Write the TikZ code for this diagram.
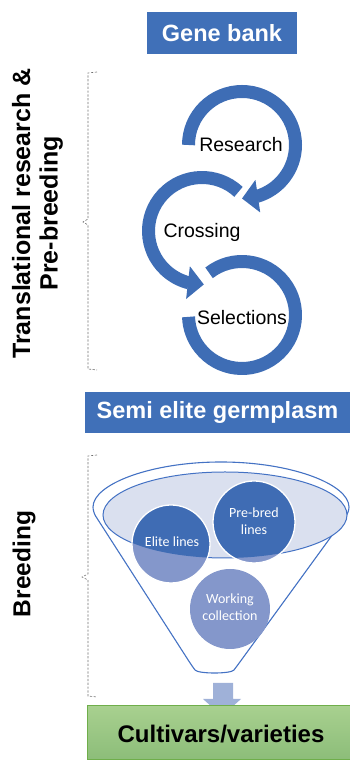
\documentclass[tikz,border=0pt]{standalone}
\usepackage{fontspec}
\setmainfont{Liberation Sans}
\newfontfamily\calib{Carlito}
\usetikzlibrary{arrows.meta,bending}
\definecolor{boxblue}{HTML}{4070B8}
\definecolor{ringblue}{HTML}{3E6DB5}
\definecolor{funnelline}{HTML}{4472C4}
\definecolor{ellfill}{HTML}{DAE0EF}
\definecolor{darkc}{HTML}{3F6CB4}
\definecolor{lightc}{HTML}{8497CB}
\definecolor{arrowfill}{HTML}{9FB1D8}
\definecolor{greentop}{HTML}{A8D08F}
\definecolor{greenbot}{HTML}{8CBD79}
\definecolor{greenline}{HTML}{6FAE4A}
\definecolor{brackgray}{HTML}{707070}
\begin{document}
\begin{tikzpicture}[x=1pt,y=1pt,
  titlebox/.style={fill=boxblue, text=white, font=\fontsize{23.5}{28}\selectfont\bfseries, inner sep=0pt},
  ring/.style={draw=ringblue, line width=13pt},
  ringtip/.style={-{Triangle[length=16pt 0 0,width=32pt 0 0,flex]}},
  ringtext/.style={font=\fontsize{19.5}{23}\selectfont, text=black, inner sep=0pt},
  sidelabel/.style={font=\fontsize{25}{27.5}\selectfont\bfseries, rotate=90, align=center, inner sep=0pt},
  bracket/.style={draw=brackgray, line width=0.6pt, dash pattern=on 2.2pt off 1.6pt},
  circtext/.style={font=\calib\fontsize{14}{16.5}\selectfont, text=white, align=center, inner sep=0pt}
]
\useasboundingbox (0,0) rectangle (350,760);

% top box
\node[titlebox, minimum width=150pt, minimum height=42pt] (gene) at (222,727) {Gene bank};

% rings
\draw[ring, ringtip] (242,615) ++(180:53.5) arc[start angle=180, end angle=-90, radius=53.5];
\draw[ring] (242,445) ++(128:53.5) arc[start angle=128, end angle=-178, radius=53.5];
\draw[ring, ringtip] (202,529) ++(47:53.5) arc[start angle=47, end angle=272, radius=53.5];

\node[ringtext] (research) at (241,615) {Research};
\node[ringtext] (crossing) at (202,528) {Crossing};
\node[ringtext] (selections) at (242,442) {Selections};

% semi elite box
\node[titlebox, minimum width=265pt, minimum height=41pt] (semi) at (217.5,347.5) {Semi elite germplasm};

% side labels
\node[sidelabel] (trl) at (37.5,546.5) {Translational research \&\\Pre-breeding};
\node[sidelabel, font=\fontsize{24.5}{28}\selectfont\bfseries] (breed) at (24,196) {Breeding};

% brackets
\draw[bracket] (97,688) -- (88,687) -- (88,541) -- (83,538) -- (88,535) -- (88,391) -- (97,390);
\draw[bracket] (97,305) -- (88,304) -- (88,186) -- (82,183) -- (88,180) -- (88,64) -- (97,63);

% funnel
\draw[draw=funnelline, line width=1.1pt, fill=white, rounded corners=5pt]
  (93,248) arc[start angle=180, end angle=0, x radius=128, y radius=50]
  -- (237,94) .. controls (231,86) and (198,86) .. (192,94) -- cycle;
\fill[ellfill] (225,245) ellipse[x radius=122, y radius=43];
\draw[funnelline, line width=1pt] (225,245) ellipse[x radius=122, y radius=43];

% circles
\fill[lightc] (171,216) circle[radius=39];
\fill[lightc] (254,238) circle[radius=41];
\fill[lightc] (230,151) circle[radius=40];
\begin{scope}
  \clip (225,245) ellipse[x radius=122, y radius=43];
  \fill[darkc] (171,216) circle[radius=39];
  \fill[darkc] (254,238) circle[radius=41];
\end{scope}
\draw[white, line width=1.3pt] (171,216) circle[radius=39];
\draw[white, line width=1.3pt] (254,238) circle[radius=41];

\node[circtext] (elite) at (172,218) {Elite lines};
\node[circtext] (prebred) at (254,239) {Pre-bred\\lines};
\node[circtext] (working) at (230,153) {Working\\collection};

% down arrow
\fill[arrowfill] (213,77) -- (233,77) -- (233,61) -- (241,61) -- (222,44) -- (203,61) -- (213,61) -- cycle;

% green box
\node[draw=greenline, line width=1pt, top color=greentop, bottom color=greenbot,
      minimum width=263pt, minimum height=54pt, inner sep=0pt] (cult) at (218.5,27) {};
\node[font=\fontsize{24}{28}\selectfont\bfseries, text=black, inner sep=0pt] (cultt) at (221,26) {Cultivars/varieties};
\end{tikzpicture}
\end{document}
